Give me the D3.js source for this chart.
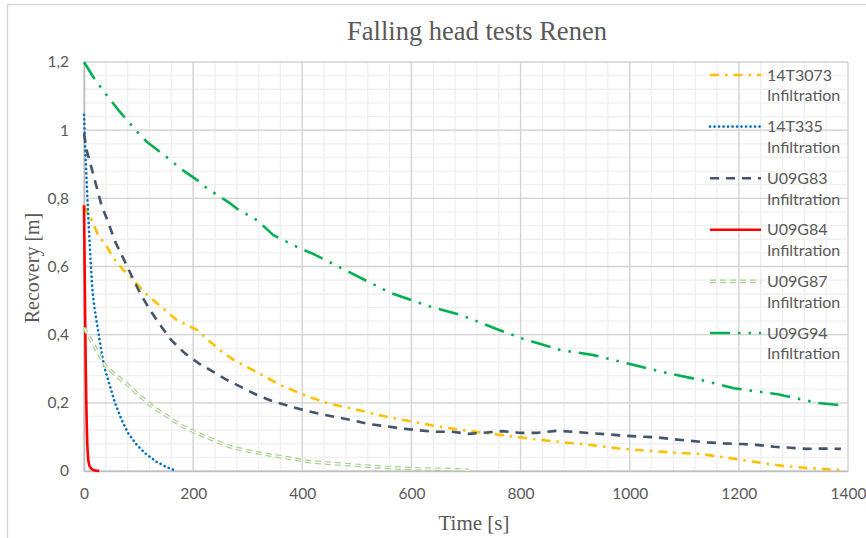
<!DOCTYPE html>
<html>
<head>
<meta charset="utf-8">
<script src="https://cdn.jsdelivr.net/npm/d3@7"></script>
<style>
  html, body { margin: 0; padding: 0; background: #fff; }
  svg { display: block; }
</style>
</head>
<body>
<div class="chart"></div>
<script>
// Falling head tests Renen - recovery vs time
const width = 866;
const height = 538;
const margin = { top: 62, right: 18, bottom: 67, left: 84 };

// Données
const xTicks = [0, 200, 400, 600, 800, 1000, 1200, 1400];
const yTicks = [0, 0.2, 0.4, 0.6, 0.8, 1, 1.2];

const t14T3073 = [0, 5, 14, 26, 42, 54, 72, 94, 109, 130, 152, 170, 207, 231, 253, 274, 320, 360, 409, 451, 500, 546, 591, 644, 690, 736, 788, 837, 886, 931, 980, 1029, 1081, 1130, 1179, 1228, 1280, 1332, 1385];
const r14T3073 = [0.78, 0.76, 0.736, 0.692, 0.658, 0.624, 0.59, 0.555, 0.526, 0.497, 0.467, 0.443, 0.414, 0.379, 0.35, 0.326, 0.287, 0.252, 0.219, 0.197, 0.18, 0.162, 0.148, 0.132, 0.121, 0.111, 0.101, 0.091, 0.083, 0.076, 0.066, 0.06, 0.054, 0.05, 0.039, 0.027, 0.015, 0.008, 0.003];

const t14T335 = [0, 3, 6, 9, 12, 15, 19, 23, 32, 38, 48, 57, 69, 81, 97, 112, 133, 152, 170];
const r14T335 = [1.045, 0.92, 0.81, 0.71, 0.62, 0.54, 0.48, 0.44, 0.35, 0.3, 0.247, 0.199, 0.15, 0.111, 0.076, 0.052, 0.027, 0.011, 0];

const tU09G83 = [0, 5, 14, 23, 32, 45, 57, 72, 88, 103, 121, 142, 160, 185, 210, 237, 262, 292, 317, 345, 375, 402, 433, 463, 488, 522, 550, 580, 611, 641, 675, 705, 733, 767, 797, 831, 868, 898, 928, 956, 986, 1017, 1048, 1081, 1109, 1142, 1173, 1207, 1237, 1265, 1295, 1323, 1353, 1387];
const rU09G83 = [0.99, 0.94, 0.888, 0.834, 0.78, 0.727, 0.673, 0.624, 0.57, 0.521, 0.472, 0.423, 0.384, 0.345, 0.316, 0.291, 0.267, 0.243, 0.223, 0.205, 0.191, 0.179, 0.167, 0.158, 0.15, 0.138, 0.132, 0.125, 0.12, 0.115, 0.115, 0.109, 0.112, 0.117, 0.112, 0.112, 0.118, 0.115, 0.111, 0.108, 0.104, 0.101, 0.099, 0.093, 0.089, 0.084, 0.081, 0.079, 0.076, 0.071, 0.068, 0.065, 0.066, 0.065];

const tU09G84 = [0, 1, 2, 3, 4, 5, 6, 7, 8, 10, 13, 17, 22, 28];
const rU09G84 = [0.78, 0.62, 0.46, 0.33, 0.22, 0.14, 0.08, 0.05, 0.03, 0.015, 0.007, 0.003, 0.001, 0];

const tU09G87 = [0, 2, 11, 23, 38, 54, 69, 85, 100, 115, 130, 158, 176, 207, 237, 268, 305, 341, 378, 415, 463, 513, 561, 611, 660, 705];
const rU09G87 = [0.42, 0.415, 0.389, 0.355, 0.311, 0.287, 0.267, 0.247, 0.223, 0.203, 0.184, 0.155, 0.135, 0.111, 0.091, 0.071, 0.057, 0.047, 0.037, 0.027, 0.021, 0.015, 0.01, 0.006, 0.005, 0.002];

const tU09G94 = [0, 17, 38, 63, 97, 115, 158, 176, 207, 225, 268, 280, 317, 347, 396, 420, 488, 561, 631, 690, 757, 803, 873, 934, 995, 1069, 1130, 1191, 1271, 1344, 1392];
const rU09G94 = [1.2, 1.156, 1.11, 1.059, 0.996, 0.966, 0.913, 0.888, 0.854, 0.83, 0.785, 0.77, 0.736, 0.692, 0.653, 0.637, 0.582, 0.523, 0.484, 0.458, 0.416, 0.389, 0.355, 0.34, 0.316, 0.287, 0.267, 0.243, 0.225, 0.2, 0.192];

const seriesNames = ['14T3073', '14T335', 'U09G83', 'U09G84', 'U09G87', 'U09G94'];

// Styles des séries
const series = [
  { name: seriesNames[0], t: t14T3073, r: r14T3073, color: '#FFC000', dash: '9,6,2.5,6', width: 2.6 },
  { name: seriesNames[1], t: t14T335, r: r14T335, color: '#0070C0', dash: '0.1,4.4', width: 2.6, cap: 'round' },
  { name: seriesNames[2], t: tU09G83, r: rU09G83, color: '#44546A', dash: '9,7', width: 2.6 },
  { name: seriesNames[3], t: tU09G84, r: rU09G84, color: '#FF0000', dash: null, width: 2.6 },
  { name: seriesNames[4], t: tU09G87, r: rU09G87, color: '#A9D18E', dash: '6,4', width: 3.6, hollow: true },
  { name: seriesNames[5], t: tU09G94, r: rU09G94, color: '#00B050', dash: '20,8,2.5,8,2.5,8', width: 2.6 }
];

const svg = d3.select('.chart')
  .append('svg')
  .attr('width', width)
  .attr('height', height);

// Cadre du graphique (coupé à droite et en bas)
svg.append('path')
  .attr('d', `M7.5,${height} L7.5,4.5 L${width},4.5`)
  .attr('fill', 'none')
  .attr('stroke', '#D9D9D9')
  .attr('stroke-width', 1.5);

const x = d3.scaleLinear()
  .domain([0, 1400])
  .range([margin.left, width - margin.right]);

const y = d3.scaleLinear()
  .domain([0, 1.2])
  .range([height - margin.bottom, margin.top]);

// Grille secondaire
const grid = svg.append('g');
grid.selectAll('.vminor')
  .data(d3.range(0, 1401, 40))
  .join('line')
    .attr('x1', d => x(d)).attr('x2', d => x(d))
    .attr('y1', y(0)).attr('y2', y(1.2))
    .attr('stroke', '#EFEFEF').attr('stroke-width', 1.3);
grid.selectAll('.hminor')
  .data(d3.range(0, 1.2001, 0.04))
  .join('line')
    .attr('x1', x(0)).attr('x2', x(1400))
    .attr('y1', d => y(d)).attr('y2', d => y(d))
    .attr('stroke', '#EFEFEF').attr('stroke-width', 1.3);

// Grille principale
grid.append('g').selectAll('line')
  .data(xTicks)
  .join('line')
    .attr('x1', d => x(d)).attr('x2', d => x(d))
    .attr('y1', y(0)).attr('y2', y(1.2))
    .attr('stroke', '#D4D4D4').attr('stroke-width', 1.3);
grid.append('g').selectAll('line')
  .data(yTicks)
  .join('line')
    .attr('x1', x(0)).attr('x2', x(1400))
    .attr('y1', d => y(d)).attr('y2', d => y(d))
    .attr('stroke', '#D4D4D4').attr('stroke-width', 1.3);

// Axes
const tickFont = 'Lato, "Liberation Sans", sans-serif';

svg.append('g')
  .attr('transform', `translate(0, ${y(0)})`)
  .call(d3.axisBottom(x).tickValues(xTicks).tickSize(0).tickPadding(17).tickFormat(d3.format('d')))
  .call(g => g.select('.domain').attr('stroke', '#BFBFBF').attr('stroke-width', 1.5))
  .call(g => g.selectAll('text').attr('fill', '#595959').style('font', `15.5px ${tickFont}`));

svg.append('g')
  .attr('transform', `translate(${x(0)}, 0)`)
  .call(d3.axisLeft(y).tickValues(yTicks).tickSize(0).tickPadding(15)
    .tickFormat(d => String(d).replace('.', ',')))
  .call(g => g.select('.domain').attr('stroke', '#BFBFBF').attr('stroke-width', 1.5))
  .call(g => g.selectAll('text').attr('fill', '#595959').style('font', `15.5px ${tickFont}`));

// Courbes
const line = d3.line()
  .x(d => x(d[0]))
  .y(d => y(d[1]));

const curves = svg.append('g');
series.forEach(s => {
  const pts = s.t.map((t, i) => [t, s.r[i]]);
  const p = curves.append('path')
    .datum(pts)
    .attr('d', line)
    .attr('fill', 'none')
    .attr('stroke', s.color)
    .attr('stroke-width', s.width)
    .attr('stroke-linejoin', 'round')
    .attr('stroke-linecap', s.cap || 'butt');
  if (s.dash) p.attr('stroke-dasharray', s.dash);
  if (s.hollow) {
    curves.append('path')
      .datum(pts)
      .attr('d', line)
      .attr('fill', 'none')
      .attr('stroke', '#fff')
      .attr('stroke-width', 1.2)
      .attr('stroke-dasharray', s.dash);
  }
});

// Légende
const legend = svg.append('g');
series.forEach((s, i) => {
  const ly = 75 + i * 51.6;
  const l = legend.append('line')
    .attr('x1', 710).attr('x2', 761)
    .attr('y1', ly).attr('y2', ly)
    .attr('stroke', s.color)
    .attr('stroke-width', s.width)
    .attr('stroke-linecap', s.cap || 'butt');
  if (s.dash) l.attr('stroke-dasharray', s.dash);
  if (s.hollow) {
    legend.append('line')
      .attr('x1', 710).attr('x2', 761)
      .attr('y1', ly).attr('y2', ly)
      .attr('stroke', '#fff').attr('stroke-width', 1.2)
      .attr('stroke-dasharray', s.dash);
  }
  const txt = legend.append('text')
    .attr('x', 767)
    .attr('y', ly)
    .attr('fill', '#595959')
    .style('font', `16px ${tickFont}`);
  txt.append('tspan').attr('x', 767).attr('dy', '0.35em').text(s.name);
  txt.append('tspan').attr('x', 767).attr('dy', '1.3em').text('Infiltration');
});

// Titres
svg.append('text')
  .attr('x', 477)
  .attr('y', 40)
  .attr('text-anchor', 'middle')
  .attr('fill', '#595959')
  .style('font', '26.5px "Liberation Serif", "Times New Roman", serif')
  .text('Falling head tests Renen');

svg.append('text')
  .attr('transform', `translate(39, 268) rotate(-90)`)
  .attr('text-anchor', 'middle')
  .attr('fill', '#595959')
  .style('font', '20px "Liberation Serif", "Times New Roman", serif')
  .text('Recovery [m]');

svg.append('text')
  .attr('x', 474)
  .attr('y', 530)
  .attr('text-anchor', 'middle')
  .attr('fill', '#595959')
  .style('font', '21px "Liberation Serif", "Times New Roman", serif')
  .text('Time [s]');
</script>
</body>
</html>
